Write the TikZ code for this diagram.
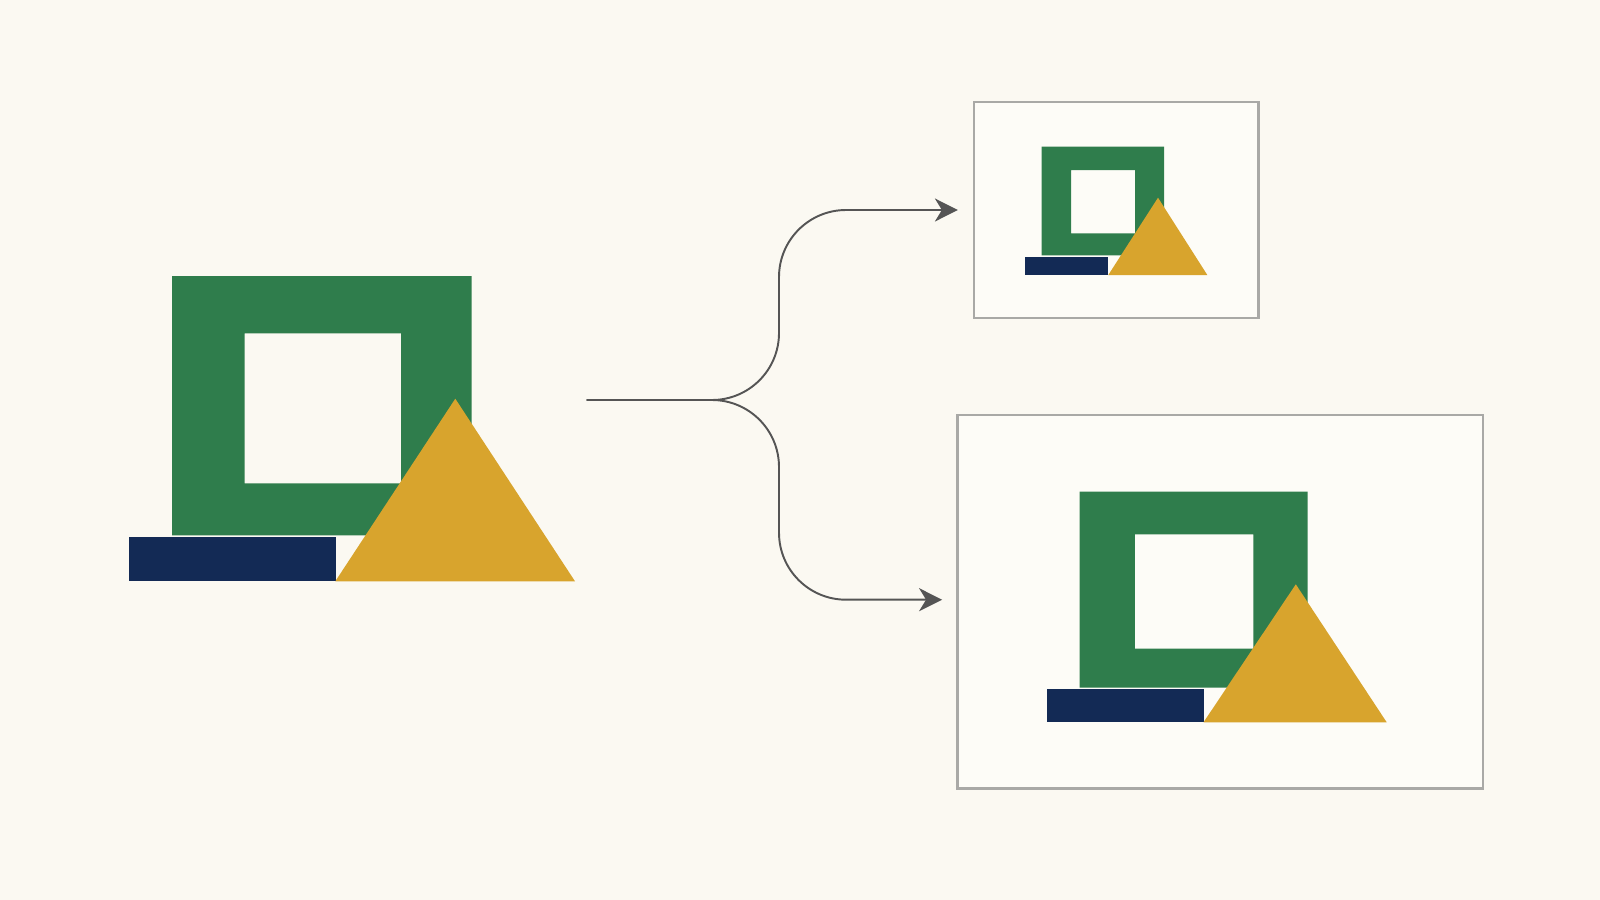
\documentclass[tikz,border=0pt]{standalone}
\usetikzlibrary{arrows.meta}
\definecolor{bg}{HTML}{FBF9F2}
\definecolor{boxfill}{HTML}{FDFCF7}
\definecolor{boxline}{HTML}{A9A9A6}
\definecolor{gframe}{HTML}{2F7D4C}
\definecolor{navyb}{HTML}{132A55}
\definecolor{gold}{HTML}{D8A42D}
\definecolor{conncol}{HTML}{555555}
\tikzset{
  framebox/.style={draw=boxline, line width=0.6pt, fill=boxfill, rectangle, inner sep=0pt},
  greenframe/.style={fill=gframe, even odd rule},
  navybar/.style={fill=navyb},
  goldtri/.style={fill=gold},
  conn/.style={draw=conncol, line width=0.55pt, rounded corners=0.67cm,
    -{Stealth[length=2.3mm,width=2.3mm,inset=0.7mm]}},
}
\begin{document}
\begin{tikzpicture}[x=0.01cm,y=-0.01cm]
\useasboundingbox (0,0) rectangle (1600,900);
\fill[bg] (0,0) rectangle (1600,900);
% source figure
\fill[greenframe] (172,276) rectangle (471.7,535.3) (244.7,333.3) rectangle (401,483.3);
\fill[navybar] (128.7,537.3) rectangle (336.3,581.3);
\fill[goldtri] (455.3,398.7) -- (575,581.3) -- (335.3,581.3) -- cycle;
% target boxes
\node[framebox, minimum width=2.843cm, minimum height=2.154cm] (small) at (1116.2,210) {};
\node[framebox, minimum width=5.255cm, minimum height=3.733cm] (large) at (1220.35,601.7) {};
% small figure
\fill[greenframe] (1041.7,146.7) rectangle (1164,255.3) (1071,170) rectangle (1135,233.3);
\fill[navybar] (1025,256.7) rectangle (1108.3,275);
\fill[goldtri] (1158,197.7) -- (1207.3,275) -- (1108.3,275) -- cycle;
% large figure
\fill[greenframe] (1079.5,491.7) rectangle (1307.5,687.7) (1134.9,534.3) rectangle (1253.4,648.7);
\fill[navybar] (1046.8,689.3) rectangle (1204.2,722.3);
\fill[goldtri] (1295.8,584.3) -- (1386.7,722.3) -- (1203.5,722.3) -- cycle;
% connectors
\coordinate (src) at (586.7,400);
\coordinate (col) at (779,400);
\coordinate (tipA) at ([xshift=-0.15cm]small.west);
\coordinate (tipB) at ([xshift=-0.143cm,yshift=0.02cm]large.west);
\draw[conn] (src) -| (col |- tipA) -- (tipA);
\draw[conn] (src) -| (col |- tipB) -- (tipB);
\end{tikzpicture}
\end{document}
